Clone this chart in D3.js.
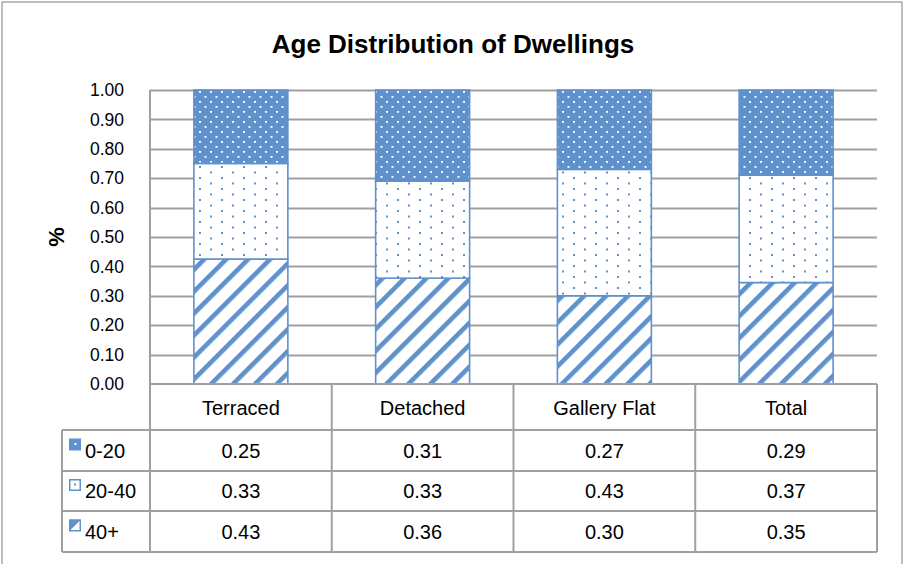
<!DOCTYPE html>
<html>
<head>
<meta charset="utf-8">
<script src="https://cdn.jsdelivr.net/npm/d3@7"></script>
<style>
  html, body { margin: 0; padding: 0; background: #fff; }
  svg { display: block; }
  text { font-family: "Liberation Sans", Arial, sans-serif; fill: #000; }
</style>
</head>
<body>
<svg id="chart" width="905" height="564"></svg>
<script>
// ---- Data (table shows them rounded to 2 decimals) ----
const categories = ["Terraced", "Detached", "Gallery Flat", "Total"];
const seriesNames = ["0-20", "20-40", "40+"];
const values_0_20  = [0.2549, 0.31, 0.27, 0.29];
const values_20_40 = [0.3251, 0.33, 0.43, 0.3651];
const values_40p   = [0.4251, 0.36, 0.30, 0.3451];
const yTicks = [0, 0.1, 0.2, 0.3, 0.4, 0.5, 0.6, 0.7, 0.8, 0.9, 1.0];
const title = "Age Distribution of Dwellings";
const yTitle = "%";

// ---- Build ----
const seriesValues = { "0-20": values_0_20, "20-40": values_20_40, "40+": values_40p };
const rows = categories.map((c, i) => ({ cat: c, "0-20": values_0_20[i], "20-40": values_20_40[i], "40+": values_40p[i] }));
const stackOrder = ["40+", "20-40", "0-20"]; // bottom to top
const stacked = d3.stack().keys(stackOrder)(rows);

const blue = "#5f91cd";
const grid = "#a0a0a0";
const svg = d3.select("#chart");

const plot = { left: 150, right: 877, top: 90, bottom: 384 };
const x = d3.scaleBand().domain(categories).range([plot.left, plot.right]).paddingInner(0.483).paddingOuter(0.2415);
const xCell = d3.scaleBand().domain(categories).range([plot.left, plot.right]).padding(0);
const y = d3.scaleLinear().domain([0, 1]).range([plot.bottom, plot.top]).clamp(true);

// patterns
const defs = svg.append("defs");
const p1 = defs.append("pattern").attr("id", "p020").attr("patternUnits", "userSpaceOnUse")
  .attr("width", 11).attr("height", 10);
p1.append("rect").attr("width", 11).attr("height", 10).attr("fill", blue);
p1.append("rect").attr("x", 1).attr("y", 1).attr("width", 2).attr("height", 1.8).attr("fill", "#fff");
p1.append("rect").attr("x", 6.5).attr("y", 6).attr("width", 2).attr("height", 1.8).attr("fill", "#fff");

const p2 = defs.append("pattern").attr("id", "p2040").attr("patternUnits", "userSpaceOnUse")
  .attr("width", 22).attr("height", 11);
p2.append("rect").attr("width", 22).attr("height", 11).attr("fill", "#fff");
p2.append("rect").attr("x", 1).attr("y", 1).attr("width", 2).attr("height", 2).attr("fill", blue);
p2.append("rect").attr("x", 12).attr("y", 6.5).attr("width", 2).attr("height", 2).attr("fill", blue);

const p3 = defs.append("pattern").attr("id", "p40").attr("patternUnits", "userSpaceOnUse")
  .attr("width", 15.5).attr("height", 15.5).attr("patternTransform", "rotate(45)");
p3.append("rect").attr("width", 15.5).attr("height", 15.5).attr("fill", "#fff");
p3.append("rect").attr("x", 0).attr("width", 4.6).attr("height", 15.5).attr("fill", blue);

const fills = { "0-20": "url(#p020)", "20-40": "url(#p2040)", "40+": "url(#p40)" };

// outer border
svg.append("rect").attr("x", 2).attr("y", 2).attr("width", 900).attr("height", 620)
  .attr("fill", "none").attr("stroke", "#a8a8a8").attr("stroke-width", 1.5);

// title
svg.append("text").attr("x", 453).attr("y", 53).attr("text-anchor", "middle")
  .attr("font-size", 26).attr("font-weight", "bold").text(title);

// gridlines
svg.append("g").selectAll("line").data(yTicks.slice(1)).join("line")
  .attr("x1", plot.left).attr("x2", plot.right)
  .attr("y1", d => Math.round(y(d)) + 0.5).attr("y2", d => Math.round(y(d)) + 0.5)
  .attr("stroke", grid).attr("stroke-width", 2);

// y axis
const yAxis = d3.axisLeft(y).tickValues(yTicks).tickFormat(d3.format(".2f")).tickSize(0).tickPadding(26);
const gy = svg.append("g").attr("transform", `translate(${plot.left},0)`).call(yAxis);
gy.select(".domain").remove();
gy.selectAll("text").attr("font-size", 17.5).attr("font-family", "Liberation Sans, Arial, sans-serif").attr("fill", "#000");

svg.append("text").attr("transform", "translate(64,237) rotate(-90)").attr("text-anchor", "middle")
  .attr("font-size", 22).attr("font-weight", "bold").text(yTitle);

// bars
svg.append("g").selectAll("g").data(stacked).join("g")
  .attr("fill", d => fills[d.key])
  .selectAll("rect").data(d => d).join("rect")
  .attr("x", d => x(d.data.cat))
  .attr("width", x.bandwidth())
  .attr("y", d => y(d[1]))
  .attr("height", d => y(d[0]) - y(d[1]))
  .attr("stroke", blue).attr("stroke-width", 1.6);

// table
const tbl = { rowEdges: [430, 471, 511, 552], labelLeft: 62 };
const tg = svg.append("g").attr("stroke", grid).attr("stroke-width", 2).attr("fill", "none");
tg.append("line").attr("x1", plot.left).attr("x2", plot.left).attr("y1", plot.top).attr("y2", 552);
tg.append("line").attr("x1", plot.left).attr("x2", plot.right).attr("y1", plot.bottom).attr("y2", plot.bottom);
tg.selectAll("line.row").data(tbl.rowEdges).join("line").attr("class", "row")
  .attr("x1", tbl.labelLeft).attr("x2", plot.right).attr("y1", d => d).attr("y2", d => d);
const colEdges = categories.slice(1).map(c => xCell(c)).concat([plot.right]);
tg.selectAll("line.col").data(colEdges).join("line").attr("class", "col")
  .attr("x1", d => d).attr("x2", d => d).attr("y1", plot.bottom).attr("y2", 552);
tg.append("line").attr("x1", tbl.labelLeft).attr("x2", tbl.labelLeft).attr("y1", 430).attr("y2", 552);

// category header labels
svg.append("g").selectAll("text").data(categories).join("text")
  .attr("x", d => xCell(d) + xCell.bandwidth() / 2).attr("y", 408)
  .attr("dy", "0.35em").attr("text-anchor", "middle").attr("font-size", 20).text(d => d);

// rows of values
const rowCenters = [450.5, 491, 531.5];
seriesNames.forEach((s, ri) => {
  svg.append("g").selectAll("text").data(seriesValues[s]).join("text")
    .attr("x", (d, i) => xCell(categories[i]) + xCell.bandwidth() / 2)
    .attr("y", rowCenters[ri]).attr("dy", "0.35em").attr("text-anchor", "middle")
    .attr("font-size", 20).text(d => d3.format(".2f")(d));
  svg.append("text").attr("x", 85).attr("y", rowCenters[ri]).attr("dy", "0.35em")
    .attr("font-size", 20).text(s);
  const ky = rowCenters[ri] - 12, kx = 69;
  const kg = svg.append("g");
  if (s === "0-20") {
    kg.append("rect").attr("x", kx).attr("y", ky).attr("width", 12).attr("height", 12).attr("fill", blue);
    kg.append("rect").attr("x", kx + 5.5).attr("y", ky + 4.5).attr("width", 2).attr("height", 2).attr("fill", "#fff");
  } else if (s === "20-40") {
    kg.append("rect").attr("x", kx + 0.75).attr("y", ky + 0.75).attr("width", 10.5).attr("height", 10.5)
      .attr("fill", "#fff").attr("stroke", blue).attr("stroke-width", 1.5);
    kg.append("rect").attr("x", kx + 5).attr("y", ky + 4.5).attr("width", 2).attr("height", 2).attr("fill", blue);
  } else {
    kg.append("rect").attr("x", kx + 0.75).attr("y", ky + 0.75).attr("width", 10.5).attr("height", 10.5)
      .attr("fill", "#fff").attr("stroke", blue).attr("stroke-width", 1.5);
    kg.append("polygon").attr("points", `${kx},${ky} ${kx + 12},${ky} ${kx},${ky + 12}`).attr("fill", blue);
  }
});
</script>
</body>
</html>
